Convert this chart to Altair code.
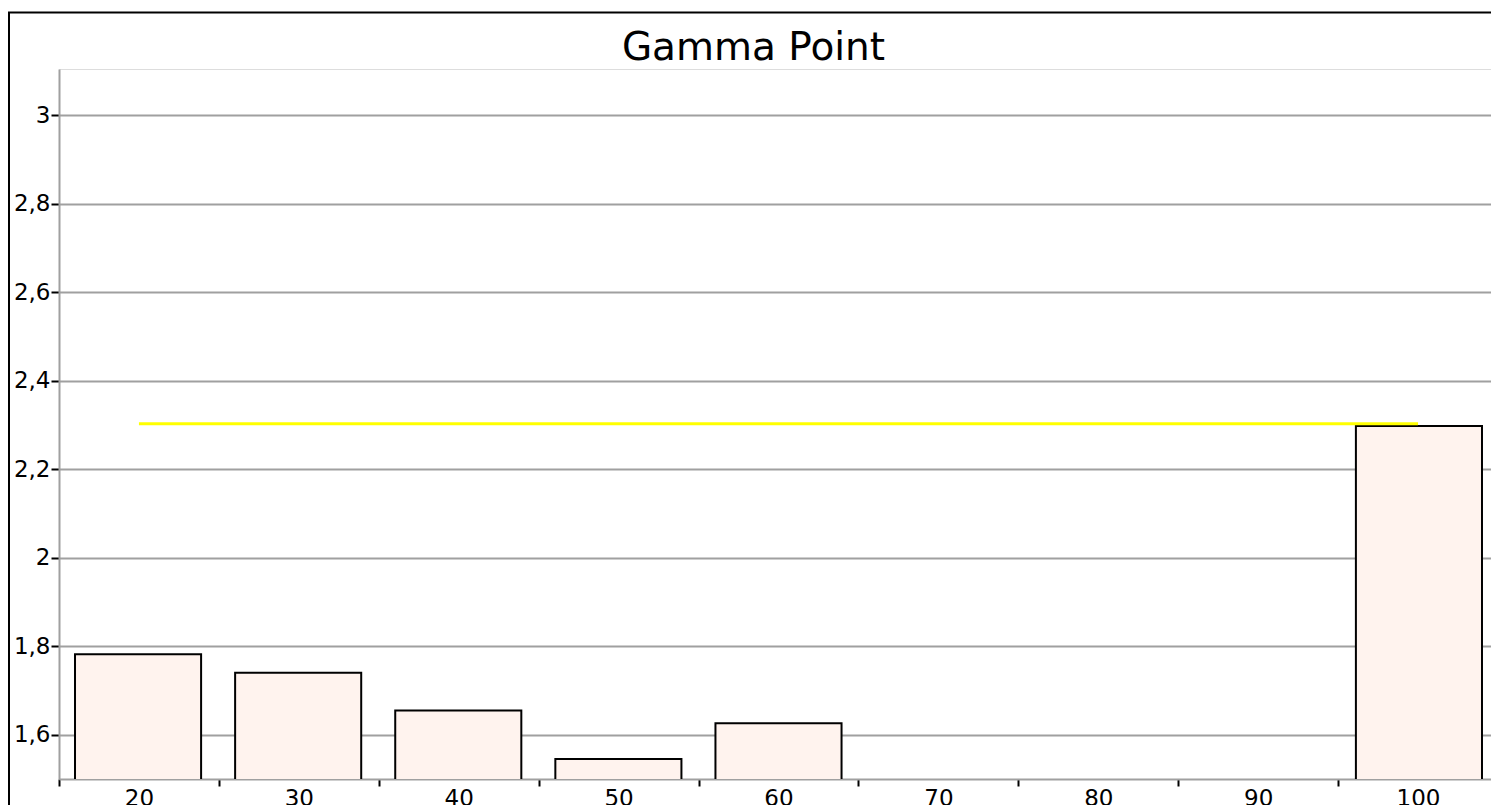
import altair as alt
import pandas as pd

title_text = "Gamma Point"
categories = ["20", "30", "40", "50", "60", "70", "80", "90", "100"]
bar_categories = ["20", "30", "40", "50", "60", "100"]
bar_values = [1.782, 1.740, 1.655, 1.545, 1.626, 2.298]
target_gamma = 2.303
y_ticks = [1.6, 1.8, 2.0, 2.2, 2.4, 2.6, 2.8, 3.0]
y_domain = [1.5, 3.105]

W, H = 1439, 710
FONT = "DejaVu Sans"

bars_df = pd.DataFrame({"cat": bar_categories, "gamma": bar_values})
line_df = pd.DataFrame({"cat": [categories[0], categories[-1]],
                        "gamma": [target_gamma, target_gamma]})
title_df = pd.DataFrame({"t": [title_text]})

bar_x_scale = alt.Scale(domain=categories, paddingInner=0.2125, paddingOuter=0.1)
axis_x_scale = alt.Scale(domain=categories, paddingInner=0, paddingOuter=0)
y_scale = alt.Scale(domain=y_domain, nice=False, zero=False)

x_axis = alt.Axis(title=None, tickBand="extent", labelAngle=0, labelFontSize=23,
                  labelFont=FONT, labelColor="#000000", labelPadding=1,
                  tickColor="#000000", tickSize=7, tickWidth=2,
                  domainColor="#a0a0a0", domainWidth=2, grid=False)
y_axis = alt.Axis(title=None, values=y_ticks,
                  labelExpr="replace(format(datum.value, '~g'), '.', ',')",
                  labelFontSize=23, labelFont=FONT, labelColor="#000000",
                  labelPadding=1, tickColor="#000000", tickSize=8, tickWidth=2,
                  domainColor="#a0a0a0", domainWidth=2,
                  grid=True, gridColor="#a0a0a0", gridWidth=2, gridOpacity=1)

bars = alt.Chart(bars_df).mark_bar(
    fill="#FFF3EE", stroke="#000000", strokeWidth=2, clip=True
).encode(
    x=alt.X("cat:N", sort=categories, scale=bar_x_scale, axis=None),
    y=alt.Y("gamma:Q", scale=y_scale, axis=y_axis),
    y2=alt.value(H),
)

line = alt.Chart(line_df).mark_line(color="#FFFF00", strokeWidth=3).encode(
    x=alt.X("cat:N", sort=categories, scale=axis_x_scale, axis=x_axis),
    y=alt.Y("gamma:Q", scale=y_scale),
)

title = alt.Chart(title_df).mark_text(
    font=FONT, fontSize=39, color="#000000", align="center", baseline="alphabetic"
).encode(
    text="t:N", x=alt.value(694.5), y=alt.value(-9.5)
)

border_df = pd.DataFrame({"k": [0]})
border_v = alt.Chart(border_df).mark_rule(color="#000000", strokeWidth=2).encode(
    x=alt.value(-50), y=alt.value(-56.5), y2=alt.value(H + 200))
border_h = alt.Chart(border_df).mark_rule(color="#000000", strokeWidth=2).encode(
    y=alt.value(-56.5), x=alt.value(-51), x2=alt.value(W + 200))

chart = alt.layer(bars, line, title, border_v, border_h).resolve_scale(
    x="independent"
).properties(
    width=W, height=H,
    autosize=alt.AutoSizeParams(type="none"),
    padding={"left": 51, "top": 61, "right": -7, "bottom": 26},
).configure_view(
    stroke="#a0a0a0", strokeWidth=2
).configure(background="#ffffff")

chart.save("out.html", embed_options={"renderer": "svg", "actions": False})
